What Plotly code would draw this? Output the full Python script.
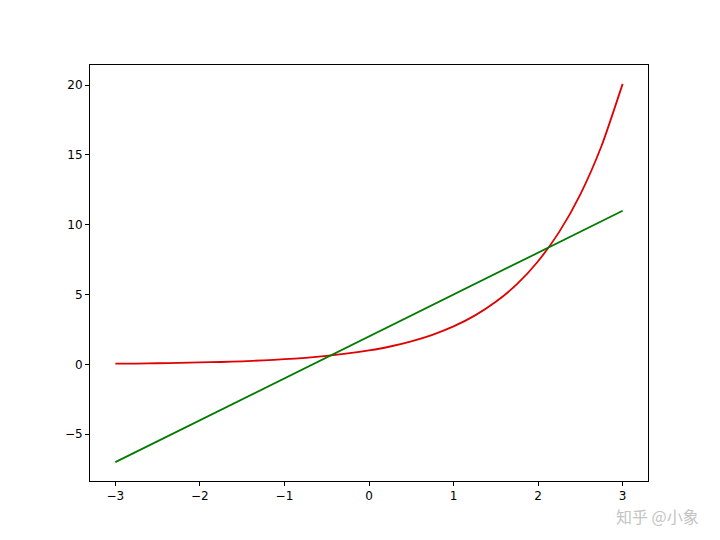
import plotly.graph_objects as go

# Curve values
x_curve = [-3.0, -2.75, -2.5, -2.25, -2.0, -1.75, -1.5, -1.25, -1.0, -0.75, -0.5, -0.25,
           0.0, 0.25, 0.5, 0.75, 1.0, 1.25, 1.5, 1.75, 2.0, 2.25, 2.5, 2.75, 3.0]
y_curve = [0.05, 0.06, 0.08, 0.11, 0.14, 0.17, 0.22, 0.29, 0.37, 0.47, 0.61, 0.78,
           1.00, 1.28, 1.65, 2.12, 2.72, 3.49, 4.48, 5.75, 7.39, 9.49, 12.18, 15.64, 20.09]

x_line = [-3, -2, -1, 0, 1, 2, 3]
y_line = [-7, -4, -1, 2, 5, 8, 11]

x_ticks = [-3, -2, -1, 0, 1, 2, 3]
y_ticks = [-5, 0, 5, 10, 15, 20]

fig = go.Figure()

fig.add_trace(go.Scatter(
    x=x_curve, y=y_curve, mode='lines',
    line=dict(color='#e00000', width=1.8, shape='spline', smoothing=0.6),
    showlegend=False
))
fig.add_trace(go.Scatter(
    x=x_line, y=y_line, mode='lines',
    line=dict(color='#007a00', width=1.8),
    showlegend=False
))

axis_style = dict(
    showgrid=False, zeroline=False,
    showline=True, linecolor='black', linewidth=1, mirror=True,
    ticks='outside', ticklen=4, tickwidth=1, tickcolor='black',
    tickfont=dict(family='DejaVu Sans', size=12, color='black'),
)

fig.update_xaxes(range=[-3.3, 3.3], tickvals=x_ticks, **axis_style)
fig.update_yaxes(range=[-8.354, 21.444], tickvals=y_ticks, **axis_style)

# watermark
fig.add_annotation(
    text='知乎 @小象', xref='paper', yref='paper', x=1.093, y=-0.084,
    xanchor='right', yanchor='middle', showarrow=False, borderpad=0,
    font=dict(family='Noto Sans CJK SC', size=16, color='#c4c4c4')
)

fig.update_layout(
    width=720, height=540,
    margin=dict(l=82, r=80, t=57, b=67),
    plot_bgcolor='white', paper_bgcolor='white',
)

fig.write_html('out.html')
